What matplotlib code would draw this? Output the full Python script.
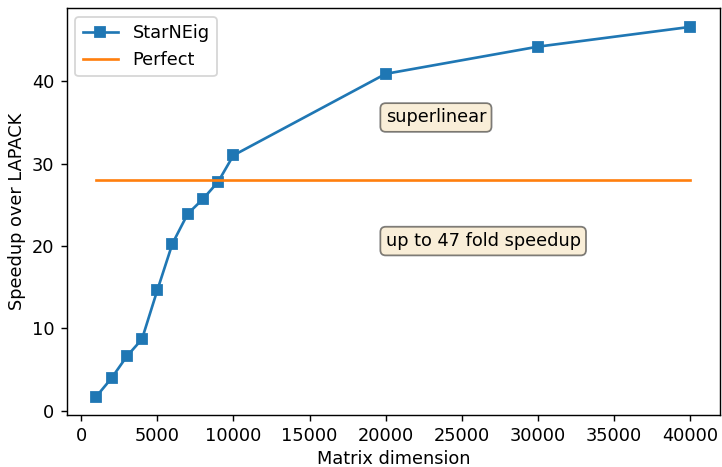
import numpy as np
import matplotlib
matplotlib.use("Agg")
import matplotlib.pyplot as plt

# Matrix dimension vs. speedup over LAPACK
dims = [1000, 2000, 3000, 4000, 5000, 6000, 7000, 8000, 9000, 10000, 20000, 30000, 40000]
speedup = [1.73, 3.96, 6.6, 8.7, 14.6, 20.3, 23.9, 25.7, 27.8, 31.0, 40.9, 44.2, 46.6]
perfect = 28.0

DPI = 128
fig = plt.figure(figsize=(722 / DPI, 467 / DPI), dpi=DPI)
ax = fig.add_axes([66.6 / 722, 1 - 415 / 467, (720 - 66.6) / 722, (415 - 8.4) / 467])

ax.plot(dims, speedup, marker='s', label='StarNEig')
ax.plot([dims[0], dims[-1]], [perfect, perfect], label='Perfect')

box = dict(boxstyle='round', facecolor='wheat', alpha=0.5)
ax.text(20000, 35.6, 'superlinear', va='center', ha='left', bbox=box)
ax.text(20000, 20.6, 'up to 47 fold speedup', va='center', ha='left', bbox=box)

ax.set_xlabel('Matrix dimension', labelpad=2.5)
ax.set_ylabel('Speedup over LAPACK', labelpad=3)
ax.legend(loc='upper left')

fig.savefig('out.png', dpi=DPI)
